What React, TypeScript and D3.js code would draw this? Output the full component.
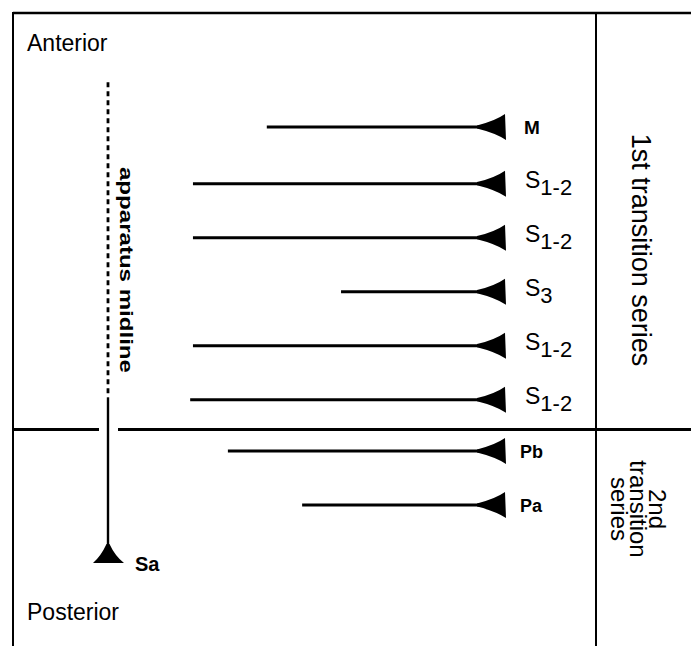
import React from "react";
import * as d3 from "d3";

// ---- data ----
const elements = ["M", "S", "S", "S", "S", "S", "Pb", "Pa"];
const subscripts = ["", "1-2", "1-2", "3", "1-2", "1-2", "", ""];
// axial position (anterior -> posterior), in element-row units
const rowPos = [0, 1.05, 2.05, 3.05, 4.05, 5.05, 6, 7];
// lateral extent of each element process from the apparatus midline (0..100)
const extent = [60, 78.6, 78.6, 41.3, 78.6, 79.3, 69.8, 51.1];
const seriesLabels = ["1st transition series", "2nd transition series"];
const seriesBreak = 5.6; // row position of boundary between series
const midlineStart = -0.83;
const midlineDashEnd = 4.95;
const midlineLabelPos = 0.74;
const saPos = 7.72;

const W = 691;
const H = 646;
const FONT = "'Liberation Sans', Arial, Helvetica, sans-serif";

export default function App() {
  const y = d3.scaleLinear().domain([0, 7]).range([127, 505]);
  const x = d3.scaleLinear().domain([0, 100]).range([505, 108]);
  const baseX = x(0);
  const mid = x(100);

  const arrowHead = (yy: number) => {
    const p = d3.path();
    p.moveTo(baseX - 28, yy - 1.6);
    p.quadraticCurveTo(baseX - 10, yy - 6, baseX, yy - 13);
    p.lineTo(baseX + 1, yy + 13);
    p.quadraticCurveTo(baseX - 10, yy + 6, baseX - 28, yy + 1.6);
    p.closePath();
    return p.toString();
  };

  const saY = y(saPos);
  const saPath = (() => {
    const p = d3.path();
    p.moveTo(mid - 1.5, saY);
    p.lineTo(mid + 1.5, saY);
    p.quadraticCurveTo(mid + 7, saY + 12, mid + 16, saY + 19);
    p.lineTo(mid - 15, saY + 19);
    p.quadraticCurveTo(mid - 7, saY + 12, mid - 1.5, saY);
    p.closePath();
    return p.toString();
  })();

  const breakY = y(seriesBreak);
  const divX = 596;

  return (
    <svg
      width={W}
      height={H}
      style={{ position: "absolute", left: 0, top: 0, background: "#fff" }}
      fontFamily={FONT}
    >
      <rect width={W} height={H} fill="#fff" />
      {/* frame */}
      <line x1={13} x2={W} y1={13} y2={13} stroke="#000" strokeWidth={2.4} />
      <line x1={13} x2={13} y1={12} y2={H} stroke="#000" strokeWidth={2} />
      <line x1={divX} x2={divX} y1={12} y2={H} stroke="#000" strokeWidth={2} />
      <line x1={13} x2={mid - 9} y1={breakY} y2={breakY} stroke="#000" strokeWidth={3} />
      <line x1={mid + 10} x2={W} y1={breakY} y2={breakY} stroke="#000" strokeWidth={3} />

      {/* midline */}
      <line
        x1={mid}
        x2={mid}
        y1={y(midlineStart)}
        y2={y(midlineDashEnd)}
        stroke="#000"
        strokeWidth={2.8}
        strokeDasharray="5 4"
      />
      <line x1={mid} x2={mid} y1={y(midlineDashEnd) + 3} y2={saY + 2} stroke="#000" strokeWidth={2.4} />
      <path d={saPath} fill="#000" />
      <text x={135} y={saY + 27} fontSize={20} fontWeight="bold">Sa</text>
      <text
        transform={`translate(${mid + 12},${y(midlineLabelPos)}) rotate(90)`}
        fontSize={19}
        fontWeight="bold"
        textLength={206}
        lengthAdjust="spacingAndGlyphs"
      >
        apparatus midline
      </text>

      <text x={27} y={51} fontSize={23}>Anterior</text>
      <text x={27} y={620} fontSize={23}>Posterior</text>

      {/* elements */}
      {elements.map((el, i) => {
        const yy = y(rowPos[i]);
        return (
          <g key={i}>
            <line x1={x(extent[i])} x2={baseX - 10} y1={yy} y2={yy} stroke="#000" strokeWidth={3} />
            <path d={arrowHead(yy)} fill="#000" />
            {subscripts[i] ? (
              <text x={525} y={yy + 4} fontSize={23}>
                {el}
                <tspan fontSize={22} dy={7}>{subscripts[i]}</tspan>
              </text>
            ) : (
              <text x={i === 0 ? 524 : 520} y={yy + 7} fontSize={i === 0 ? 19 : 18} fontWeight="bold">
                {el}
              </text>
            )}
          </g>
        );
      })}

      {/* series labels */}
      <text
        transform={`translate(641,250) rotate(90)`}
        textAnchor="middle"
        dominantBaseline="central"
        fontSize={27}
      >
        {seriesLabels[0]}
      </text>
      <g transform={`translate(638,${509}) rotate(90)`} fontSize={24} textAnchor="middle">
        {seriesLabels[1].split(" ").map((w, k) => (
          <text key={k} x={0} y={(k - 1) * 19} dominantBaseline="central">
            {w}
          </text>
        ))}
      </g>
    </svg>
  );
}
